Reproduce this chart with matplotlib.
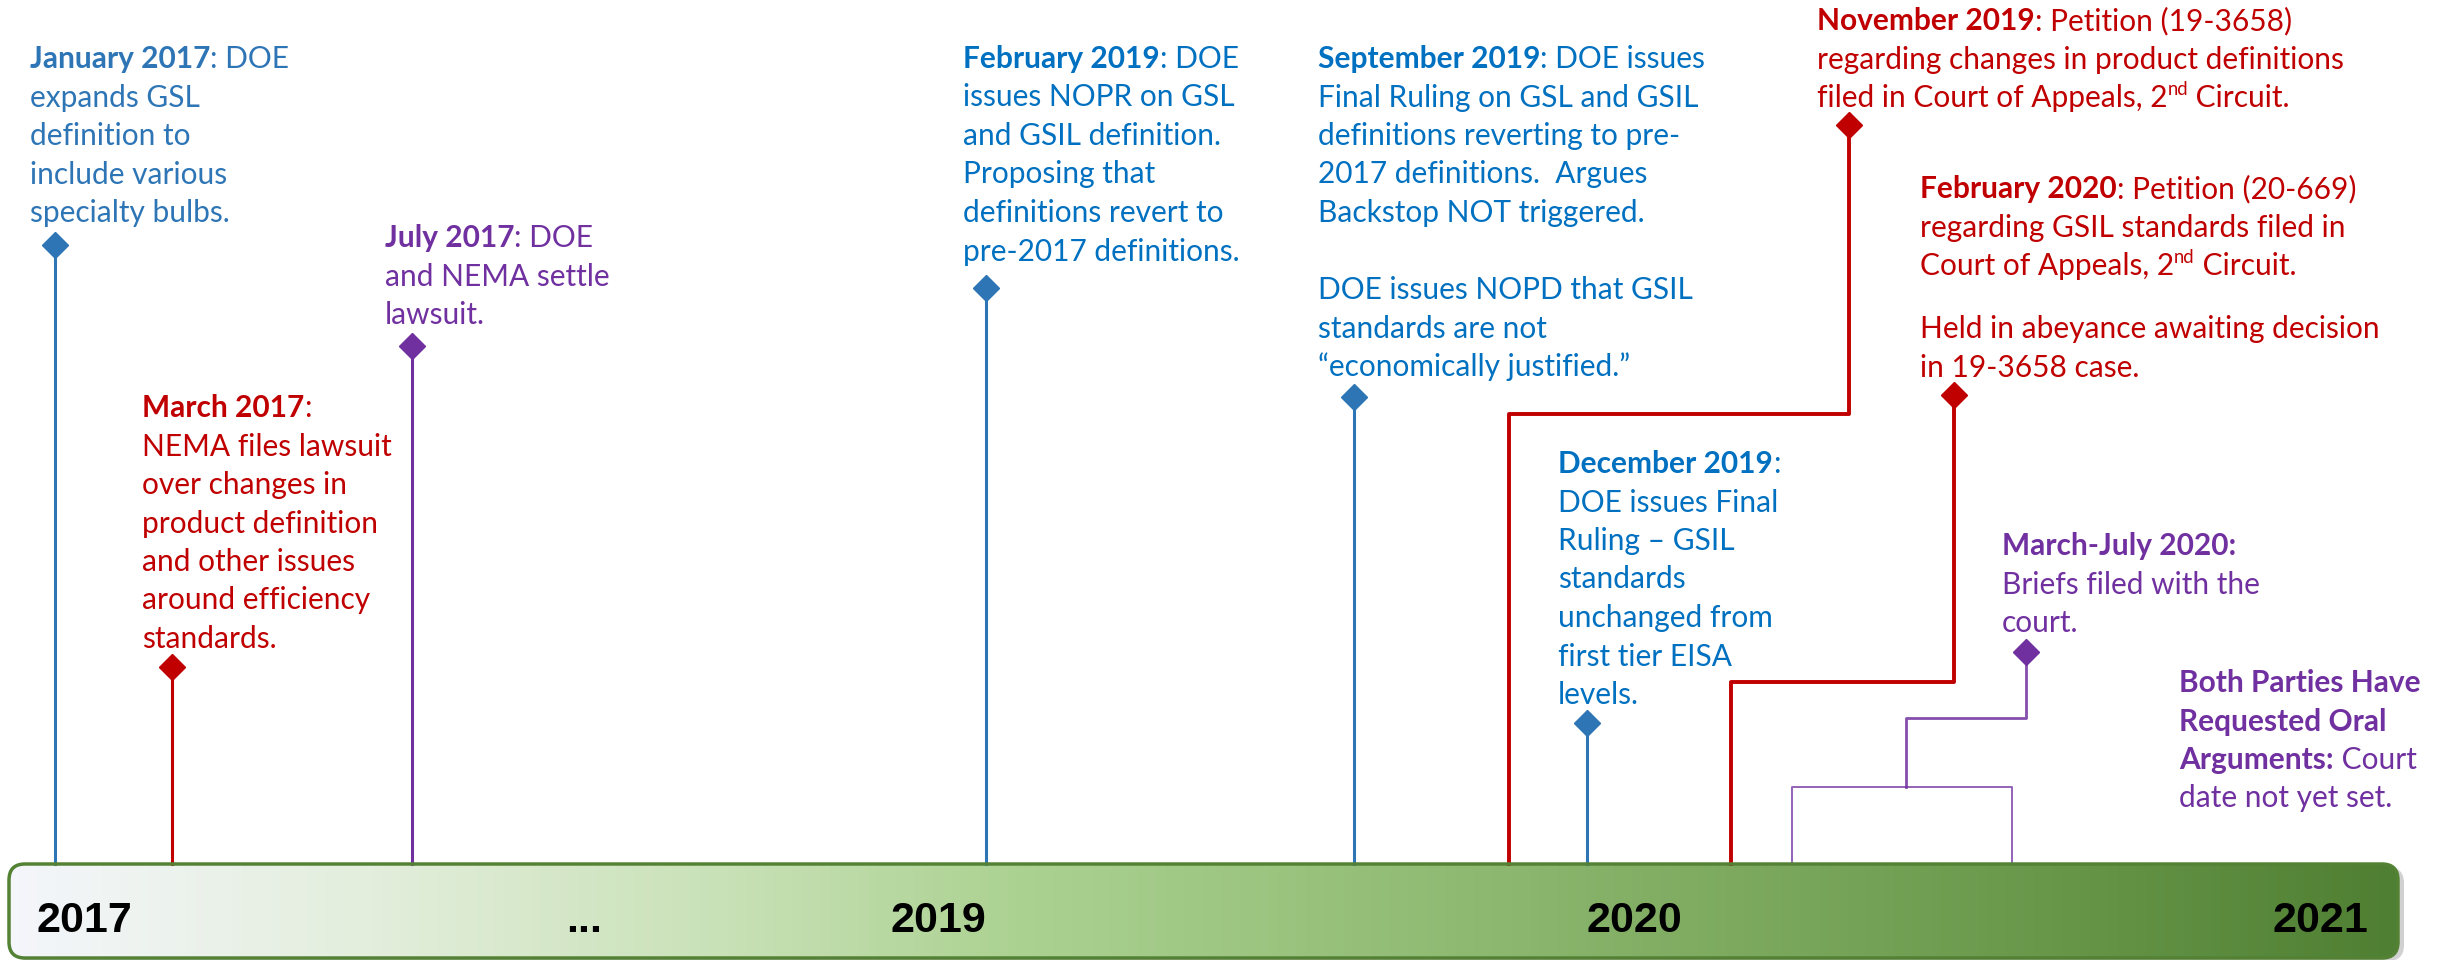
import numpy as np
import matplotlib
matplotlib.use('Agg')
import matplotlib.pyplot as plt
from matplotlib.patches import FancyBboxPatch
from matplotlib.colors import LinearSegmentedColormap

plt.rcParams['font.family'] = ['Lato', 'DejaVu Sans']

BLUE = '#2E75B6'
BLUE2 = '#0070C0'
RED = '#C00000'
PURPLE = '#7030A0'
FS = 21.5          # body text size (pt)
LINE = 38.5        # line spacing in px

# timeline bar
bar_left, bar_right = 9, 2398
bar_top, bar_bottom = 864, 958
year_labels = ['2017', '...', '2019', '2020', '2021']
year_x = [37, 566, 891, 1587, 2273]
year_base = 932

# simple events: diamond + straight stem down to the bar
event_names = ['January 2017', 'March 2017', 'July 2017',
               'February 2019', 'September 2019', 'December 2019']
event_x = [55, 172, 412, 986, 1354, 1587]
marker_y = [245, 667, 346, 288, 397, 723]
event_color = [BLUE, RED, PURPLE, BLUE, BLUE, BLUE]

# events joined to the bar by elbow connectors
nov19_x = [1849, 1849, 1509, 1509]
nov19_y = [125, 414, 414, bar_top]
feb20_x = [1954, 1954, 1731, 1731]
feb20_y = [395, 682, 682, bar_top]
briefs_x = [2026, 2026, 1906, 1906]
briefs_y = [652, 718, 718, 787]
bracket_x = [1792, 1792, 2012, 2012]
bracket_y = [bar_top, 787, 787, bar_top]

# text blocks: (left x, first line centre y, colour, gap for blank line)
block_x = [30, 142, 385, 963, 1318, 1558, 1817, 1920, 2002, 2179]
block_y = [58, 407, 237, 58, 58, 463, 20, 188, 545, 682]
block_color = [BLUE, RED, PURPLE, BLUE2, BLUE2, BLUE2, RED, RED, PURPLE, PURPLE]
block_gap = [1, 1, 1, 1, 1.0, 1, 1, 0.64, 1, 1]
block_lines = [
    [[('January 2017', 'b'), (': DOE', 'n')], 'expands GSL', 'definition to',
     'include various', 'specialty bulbs.'],
    [[('March 2017', 'b'), (':', 'n')], 'NEMA files lawsuit', 'over changes in',
     'product definition', 'and other issues', 'around efficiency', 'standards.'],
    [[('July 2017', 'b'), (': DOE', 'n')], 'and NEMA settle', 'lawsuit.'],
    [[('February 2019', 'b'), (': DOE', 'n')], 'issues NOPR on GSL',
     'and GSIL definition.', 'Proposing that', 'definitions revert to',
     'pre-2017 definitions.'],
    [[('September 2019', 'b'), (': DOE issues', 'n')], 'Final Ruling on GSL and GSIL',
     'definitions reverting to pre-', '2017 definitions.  Argues',
     'Backstop NOT triggered.', None, 'DOE issues NOPD that GSIL',
     'standards are not', '\u201ceconomically justified.\u201d'],
    [[('December 2019', 'b'), (':', 'n')], 'DOE issues Final', 'Ruling \u2013 GSIL',
     'standards', 'unchanged from', 'first tier EISA', 'levels.'],
    [[('November 2019', 'b'), (': Petition (19-3658)', 'n')],
     'regarding changes in product definitions',
     [('filed in Court of Appeals, 2', 'n'), ('nd', 's'), (' Circuit.', 'n')]],
    [[('February 2020', 'b'), (': Petition (20-669)', 'n')],
     'regarding GSIL standards filed in',
     [('Court of Appeals, 2', 'n'), ('nd', 's'), (' Circuit.', 'n')], None,
     'Held in abeyance awaiting decision', 'in 19-3658 case.'],
    [[('March-July 2020:', 'b')], 'Briefs filed with the', 'court.'],
    [[('Both Parties Have', 'b')], [('Requested Oral', 'b')],
     [('Arguments:', 'b'), (' Court', 'n')], 'date not yet set.'],
]

fig = plt.figure(figsize=(24.4, 9.6), dpi=100)
ax = fig.add_axes([0, 0, 1, 1])
ax.set_xlim(0, 2440)
ax.set_ylim(960, 0)
ax.axis('off')
renderer = fig.canvas.get_renderer()


def draw_runs(x, y, runs, color):
    for s, kind in runs:
        if kind == 's':
            t = ax.text(x, y - 12, s, fontsize=FS * 0.62, color=color, va='baseline')
        else:
            t = ax.text(x, y, s, fontsize=FS, color=color, va='baseline',
                        fontweight='bold' if kind == 'b' else 'normal')
        x = t.get_window_extent(renderer=renderer).x1


# bar shadow + gradient bar
shadow = FancyBboxPatch((bar_left + 6, bar_top + 3), bar_right - bar_left, bar_bottom - bar_top,
                        boxstyle='round,pad=0,rounding_size=16', fc='#999999', ec='none',
                        alpha=0.45, zorder=1)
ax.add_patch(shadow)
bar = FancyBboxPatch((bar_left, bar_top), bar_right - bar_left, bar_bottom - bar_top,
                     boxstyle='round,pad=0,rounding_size=16', fc='none', ec='#548235',
                     lw=2.5, zorder=3)
ax.add_patch(bar)
cmap = LinearSegmentedColormap.from_list('bar', [
    (0.0, '#f4f6fb'), (0.15, '#e3eedc'), (0.3, '#c8e1b6'), (0.42, '#acd292'),
    (0.55, '#98c27c'), (0.7, '#80ad62'), (0.85, '#69984b'), (1.0, '#4f7f32')])
grad = ax.imshow(np.linspace(0, 1, 512)[None, :], cmap=cmap, aspect='auto',
                 extent=(bar_left, bar_right, bar_bottom, bar_top), zorder=2)
grad.set_clip_path(bar)
ax.set_xlim(0, 2440)
ax.set_ylim(960, 0)

for lab, x in zip(year_labels, year_x):
    ax.text(x, year_base, lab, fontsize=31, fontweight='bold', color='black',
            family='Liberation Sans', va='baseline', zorder=4)

# stems and diamonds
for x, y, c in zip(event_x, marker_y, event_color):
    ax.plot([x, x], [y, bar_top], color=c, lw=2.2, zorder=2)
    ax.plot(x, y, marker='D', ms=13, color=c, zorder=5)

ax.plot(nov19_x, nov19_y, color=RED, lw=2.8, zorder=2)
ax.plot(nov19_x[0], nov19_y[0], marker='D', ms=13, color=RED, zorder=5)
ax.plot(feb20_x, feb20_y, color=RED, lw=2.8, zorder=2)
ax.plot(feb20_x[0], feb20_y[0], marker='D', ms=13, color=RED, zorder=5)
ax.plot(briefs_x, briefs_y, color=PURPLE, lw=2.0, alpha=0.85, zorder=2)
ax.plot(bracket_x, bracket_y, color=PURPLE, lw=1.4, alpha=0.75, zorder=2)
ax.plot(briefs_x[0], briefs_y[0], marker='D', ms=13, color=PURPLE, zorder=5)

# text blocks
for bx, by, c, gap, lines in zip(block_x, block_y, block_color, block_gap, block_lines):
    y = by + 10
    for ln in lines:
        if ln is None:
            y += LINE * gap
            continue
        runs = [(ln, 'n')] if isinstance(ln, str) else ln
        draw_runs(bx, y, runs, c)
        y += LINE

fig.savefig('out.png', dpi=100)
